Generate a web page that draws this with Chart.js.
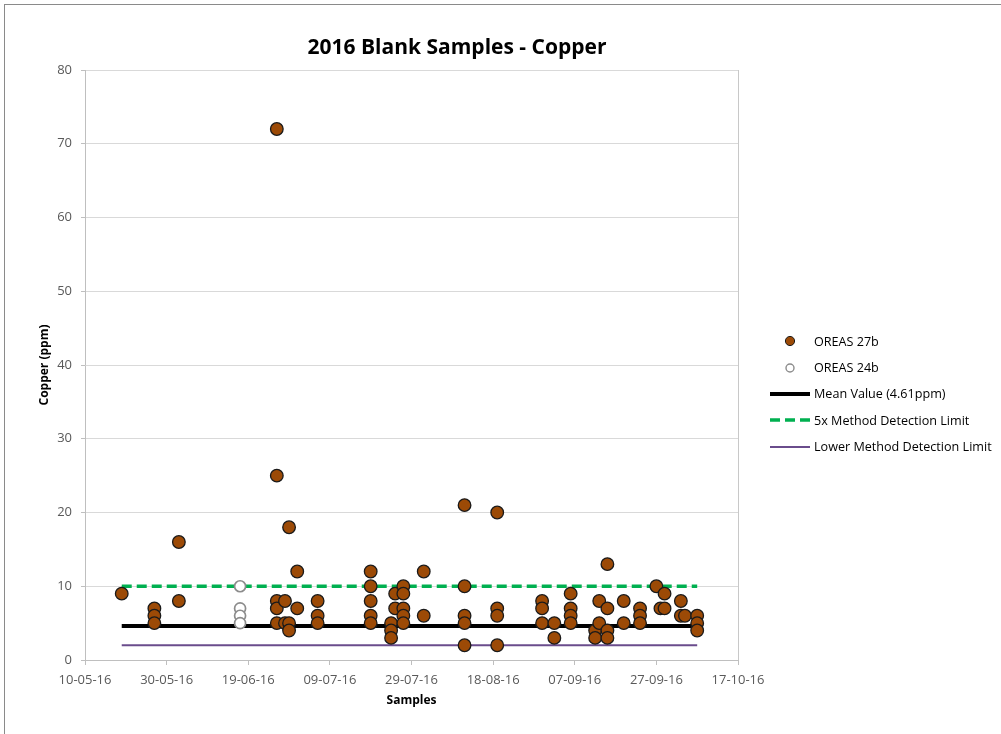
<!DOCTYPE html>
<html>
<head>
<meta charset="utf-8">
<script src="https://cdn.jsdelivr.net/npm/chart.js@4.4.1/dist/chart.umd.min.js"></script>
<style>
  html, body { margin: 0; padding: 0; background: #fff; }
  #wrap { position: relative; width: 1001px; height: 734px; overflow: hidden; }
  #frame { position: absolute; left: 4px; top: 4px; width: 1100px; height: 800px; border: 1px solid #8a8a8a; }
  #chart { position: absolute; left: 0; top: 0; }
  #title { position: absolute; left: 257px; width: 400px; top: 32px; line-height: 28px; text-align: center;
           font: bold 21px "Open Sans"; color: #000; }
  #legend { position: absolute; left: 770px; top: 328px; font: 12.6px "Open Sans"; color: #000; }
  #legend .item { height: 26.4px; display: flex; align-items: center; white-space: nowrap; }
  #legend svg { width: 40px; height: 12px; margin-right: 4px; flex: none; }
</style>
</head>
<body>
<div id="wrap">
  <div id="frame"></div>
  <canvas id="chart" width="1001" height="734"></canvas>
  <div id="title">2016 Blank Samples - Copper</div>
  <div id="legend"></div>
</div>
<script>
// OREAS 27b blanks: sample date and copper (ppm)
var oreas27bDates = [
  "2016-05-19",
  "2016-05-27", "2016-05-27", "2016-05-27",
  "2016-06-02", "2016-06-02",
  "2016-06-26", "2016-06-26", "2016-06-26", "2016-06-26", "2016-06-26",
  "2016-06-28", "2016-06-28",
  "2016-06-29", "2016-06-29", "2016-06-29",
  "2016-07-01", "2016-07-01",
  "2016-07-06", "2016-07-06", "2016-07-06",
  "2016-07-19", "2016-07-19", "2016-07-19", "2016-07-19", "2016-07-19",
  "2016-07-24", "2016-07-24", "2016-07-24",
  "2016-07-25", "2016-07-25",
  "2016-07-27", "2016-07-27", "2016-07-27", "2016-07-27", "2016-07-27",
  "2016-08-01", "2016-08-01",
  "2016-08-11", "2016-08-11", "2016-08-11", "2016-08-11", "2016-08-11",
  "2016-08-19", "2016-08-19", "2016-08-19", "2016-08-19",
  "2016-08-30", "2016-08-30", "2016-08-30",
  "2016-09-02", "2016-09-02",
  "2016-09-06", "2016-09-06", "2016-09-06", "2016-09-06",
  "2016-09-12", "2016-09-12",
  "2016-09-13", "2016-09-13",
  "2016-09-15", "2016-09-15", "2016-09-15", "2016-09-15",
  "2016-09-19", "2016-09-19",
  "2016-09-23", "2016-09-23", "2016-09-23",
  "2016-09-27",
  "2016-09-28",
  "2016-09-29", "2016-09-29",
  "2016-10-03", "2016-10-03",
  "2016-10-04",
  "2016-10-07", "2016-10-07", "2016-10-07"
];
var oreas27bCopper = [
  9,
  7, 6, 5,
  16, 8,
  72, 25, 8, 7, 5,
  8, 5,
  18, 5, 4,
  12, 7,
  8, 6, 5,
  12, 10, 8, 6, 5,
  5, 4, 3,
  9, 7,
  10, 9, 7, 6, 5,
  12, 6,
  21, 10, 6, 5, 2,
  20, 7, 6, 2,
  8, 7, 5,
  5, 3,
  9, 7, 6, 5,
  4, 3,
  8, 5,
  13, 7, 4, 3,
  8, 5,
  7, 6, 5,
  10,
  7,
  9, 7,
  8, 6,
  6,
  6, 5, 4
];

// OREAS 24b blanks
var oreas24bDates = ["2016-06-17", "2016-06-17", "2016-06-17", "2016-06-17"];
var oreas24bCopper = [10, 7, 6, 5];

// reference lines
var lineDates = ["2016-05-19", "2016-10-07"];
var meanCopper = 4.61;
var mdl5x = 10;
var lowerMdl = 2;

var xTickStart = "2016-05-10";
var xTickEnd = "2016-10-17";
var xTickStepDays = 20;

// date string -> spreadsheet day number
function serial(d) {
  var p = d.split("-");
  return (Date.UTC(+p[0], +p[1] - 1, +p[2]) - Date.UTC(1899, 11, 30)) / 86400000;
}
function two(n) { return (n < 10 ? "0" : "") + n; }
function fmtDate(v) {
  var dt = new Date(Date.UTC(1899, 11, 30) + v * 86400000);
  return two(dt.getUTCDate()) + "-" + two(dt.getUTCMonth() + 1) + "-" + two(dt.getUTCFullYear() % 100);
}
function points(dates, vals) {
  return dates.map(function (d, i) { return { x: serial(d), y: vals[i] }; });
}
function flat(v) {
  return lineDates.map(function (d) { return { x: serial(d), y: v }; });
}

var plotBorder = {
  id: "plotBorder",
  beforeDatasetsDraw: function (chart) {
    var a = chart.chartArea, c = chart.ctx;
    c.save();
    c.strokeStyle = "#c8c8c8";
    c.lineWidth = 1;
    c.beginPath();
    c.moveTo(Math.round(a.right) + 0.5, a.top);
    c.lineTo(Math.round(a.right) + 0.5, a.bottom);
    c.stroke();
    c.restore();
  }
};

var font = "Open Sans";
var datasets = [
  { label: "OREAS 27b", data: points(oreas27bDates, oreas27bCopper),
    backgroundColor: "#9C4A06", borderColor: "#1a1a1a", borderWidth: 1.3, pointRadius: 6.3 },
  { label: "OREAS 24b", data: points(oreas24bDates, oreas24bCopper),
    backgroundColor: "#ffffff", borderColor: "#8c8c8c", borderWidth: 1.7, pointRadius: 5.5 },
  { label: "Mean Value (4.61ppm)", data: flat(meanCopper), showLine: true,
    borderColor: "#000000", borderWidth: 4, pointRadius: 0 },
  { label: "5x Method Detection Limit", data: flat(mdl5x), showLine: true,
    borderColor: "#00B050", borderWidth: 3.5, borderDash: [10, 5], pointRadius: 0 },
  { label: "Lower Method Detection Limit", data: flat(lowerMdl), showLine: true,
    borderColor: "#6A4C8C", borderWidth: 2.2, pointRadius: 0 }
];

var chart = new Chart(document.getElementById("chart"), {
  type: "scatter",
  data: { datasets: datasets },
  options: {
    responsive: false,
    animation: false,
    layout: { padding: { left: 0, right: 263, top: 70, bottom: 0 } },
    plugins: { legend: { display: false }, tooltip: { enabled: false } },
    scales: {
      x: {
        type: "linear",
        min: serial(xTickStart),
        max: serial(xTickEnd),
        afterFit: function (s) { s.height = 74; },
        ticks: { stepSize: xTickStepDays, autoSkip: false, maxRotation: 0, padding: 7,
                 color: "#595959", font: { family: font, size: 13 }, callback: fmtDate },
        grid: { drawOnChartArea: false, drawTicks: true, tickLength: 5, tickColor: "#bfbfbf" },
        border: { color: "#bfbfbf" },
        title: { display: true, text: "Samples", color: "#000",
                 font: { family: font, size: 12, weight: "bold" }, padding: { top: 0, bottom: 26 } }
      },
      y: {
        min: 0,
        max: 80,
        afterFit: function (s) { s.width = 85; },
        ticks: { stepSize: 10, padding: 9, color: "#595959", font: { family: font, size: 13 } },
        grid: { color: "#d9d9d9", tickLength: 4, tickColor: "#bfbfbf" },
        border: { color: "#bfbfbf" },
        title: { display: true, text: "Copper (ppm)", color: "#000",
                 font: { family: font, size: 12, weight: "bold" }, padding: { top: 37, bottom: 0 } }
      }
    }
  },
  plugins: [plotBorder]
});

// legend beside the plot
var legend = document.getElementById("legend");
datasets.forEach(function (ds) {
  var sym;
  if (!ds.showLine) {
    var r = ds.label === "OREAS 27b" ? 4.6 : 4;
    sym = '<circle cx="20" cy="6" r="' + r + '" fill="' + ds.backgroundColor + '" stroke="' +
          ds.borderColor + '" stroke-width="' + (ds.label === "OREAS 27b" ? 1 : 1.4) + '"/>';
  } else {
    sym = '<line x1="0" y1="6" x2="40" y2="6" stroke="' + ds.borderColor + '" stroke-width="' +
          ds.borderWidth + '"' + (ds.borderDash ? ' stroke-dasharray="' + ds.borderDash.join(",") + '"' : "") + '/>';
  }
  var row = document.createElement("div");
  row.className = "item";
  row.innerHTML = '<svg viewBox="0 0 40 12">' + sym + '</svg><span>' + ds.label + '</span>';
  legend.appendChild(row);
});
</script>
</body>
</html>
